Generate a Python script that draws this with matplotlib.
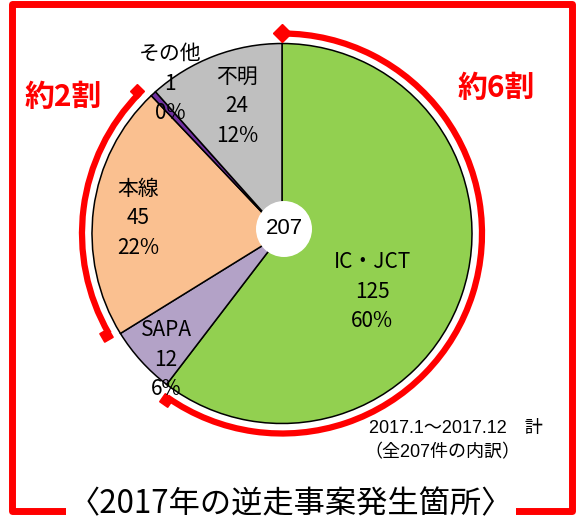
import numpy as np
import matplotlib
matplotlib.use('Agg')
import matplotlib.pyplot as plt
from matplotlib.patches import Arc, Circle, Rectangle

# データ (2017年 逆走事案 発生箇所)
names = ['IC・JCT', 'SAPA', '本線', 'その他', '不明']
counts = [125, 12, 45, 1, 24]
colors = ['#92D050', '#B3A2C7', '#FAC090', '#7030A0', '#BFBFBF']
total_label = '207'
share_labels = ['約6割', '約2割']
note_lines = ['2017.1～2017.12　計', '（全207件の内訳）']
title = '〈2017年の逆走事案発生箇所〉'

W, H = 578, 519
JP = ['Noto Sans CJK JP', 'DejaVu Sans']
ARIAL = ['Liberation Sans', 'Noto Sans CJK JP']


def Y(y):
    # 画像座標(下向き) -> データ座標(上向き)
    return H - y


fig = plt.figure(figsize=(W / 100, H / 100), dpi=100)
ax = fig.add_axes([0, 0, 1, 1])

# 円グラフ
cx, cy, r = 282, Y(233.5), 190
ax.pie(counts, colors=colors, startangle=90, counterclock=False,
       center=(cx, cy), radius=r, frame=True,
       wedgeprops=dict(edgecolor='black', linewidth=1.1))

# 中央の白丸
ax.add_patch(Circle((284, Y(229)), 28, facecolor='white', edgecolor='none', zorder=5))
ax.text(284, Y(229), total_label, ha='center', va='center', fontsize=16,
        family=ARIAL, zorder=6)

# データラベル (名前 / 件数 / %)
total = sum(counts)
label_pos = [(372, 262), (166, 330), (138, 189), (170, 54), (237, 77)]
for name, n, (lx, ly) in zip(names, counts, label_pos):
    pct = f'{round(n / total * 100)}%'
    for i, s in enumerate([name, str(n), pct]):
        ax.text(lx, Y(ly + i * 29.5), s, ha='center', va='center',
                fontsize=15, family=JP, zorder=7)

# 赤い円弧 (約6割 / 約2割)
red = '#FF0000'
ra = 200
arcs = [(-125, 90), (135.5, 210)]
for t1, t2 in arcs:
    ax.add_patch(Arc((cx, cy), 2 * ra, 2 * ra, theta1=t1, theta2=t2,
                     color=red, linewidth=4.5, zorder=3))

ax.plot(cx, Y(33), marker='D', markersize=9, color=red, zorder=4)
for ang in [-125, 135.5, 210]:
    a = np.radians(ang)
    ax.plot(cx + 203 * np.cos(a), cy + 203 * np.sin(a), marker=(4, 0, ang + 45),
            markersize=10, color=red, zorder=4)

ax.text(496, Y(88), share_labels[0], ha='center', va='center', fontsize=21.5,
        fontweight='bold', color=red, family=JP)
ax.text(63, Y(97), share_labels[1], ha='center', va='center', fontsize=21.5,
        fontweight='bold', color=red, family=JP)

# 注記
ax.text(369, Y(428), note_lines[0], ha='left', va='center', fontsize=13, family=ARIAL)
ax.text(364, Y(453), note_lines[1], ha='left', va='center', fontsize=13, family=ARIAL)

# 外枠
ax.add_patch(Rectangle((11.5, Y(511)), 560.5, 507, fill=False, edgecolor=red,
                       linewidth=5, joinstyle='round', zorder=8))
ax.text(291, Y(504), title, ha='center', va='center', fontsize=22.5, family=JP,
        zorder=9, bbox=dict(facecolor='white', edgecolor='none', pad=2))

ax.set_xlim(0, W)
ax.set_ylim(0, H)
ax.axis('off')

fig.savefig('out.png', dpi=100)
